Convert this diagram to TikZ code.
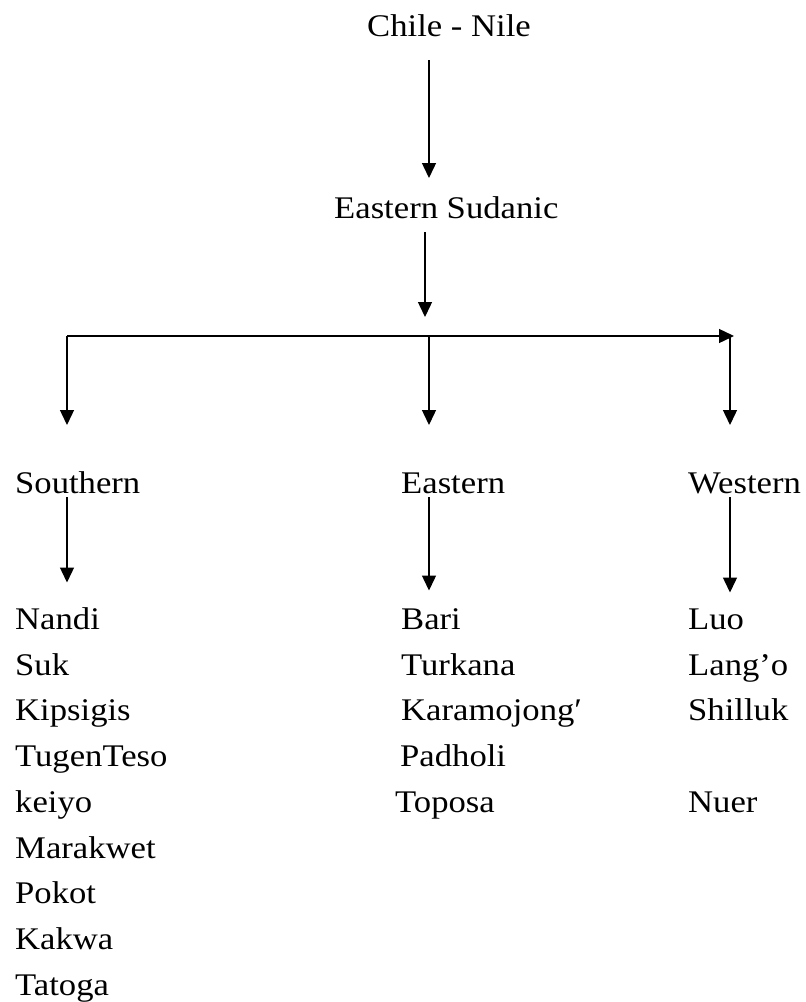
\documentclass[tikz,border=0pt]{standalone}
\usepackage{fontspec}
\setmainfont{Liberation Serif}[FakeStretch=1.1]
\usetikzlibrary{arrows.meta}
\begin{document}
\begin{tikzpicture}[x=1pt, y=-1pt, font=\fontsize{31.5}{36}\selectfont,
	lang/.style={anchor=base west, inner sep=0pt},
	arr/.style={-{Triangle[length=15pt, width=14pt]}, line width=1.4pt}]
	\useasboundingbox (0,0) rectangle (806,1002);
	%top
	\node[lang] (chile) at (367,36) {Chile - Nile};
	\node[lang] (sudanic) at (334,218) {Eastern Sudanic};
	%branches
	\node[lang] (south) at (15,493) {Southern};
	\node[lang] (east) at (401,493) {Eastern};
	\node[lang] (west) at (688,493) {Western};
	%lists
	\foreach \name [count=\i from 0] in {Nandi,Suk,Kipsigis,TugenTeso,keiyo,Marakwet,Pokot,Kakwa,Tatoga}
	\node[lang] (s\i) at (15,629.5+45.7*\i) {\name};
	\foreach \name/\x [count=\i from 0] in {Bari/401,Turkana/401,Karamojong′/401,Padholi/400,Toposa/395}
	\node[lang] (e\i) at (\x,629.5+45.7*\i) {\name};
	\foreach \name/\r in {Luo/0,Lang'o/1,Shilluk/2,Nuer/4}
	\node[lang] (w\r) at (688,629.5+45.7*\r) {\name};
	%bus
	\coordinate (hub) at (425,317);
	\coordinate (busL) at (67,336);
	\coordinate (busM) at (429,336);
	\coordinate (busR) at (734,336);
	\coordinate (busRd) at (730,336);
	%arrows
	\draw[arr, shorten <=24pt, shorten >=40pt] (chile.base -| busM) -- (sudanic.base -| busM);
	\draw[arr, shorten <=14pt] (sudanic.base -| hub) -- (hub);
	\draw[arr] (busL) -- (busR);
	\draw[arr, shorten >=68pt] (busL) -- (busL |- south.base);
	\draw[arr, shorten >=68pt] (busM) -- (busM |- east.base);
	\draw[arr, shorten >=68pt] (busRd) -- (busRd |- west.base);
	\draw[arr, shorten <=4pt, shorten >=47pt] (south.base -| busL) -- (s0.base -| busL);
	\draw[arr, shorten <=4pt, shorten >=39pt] (east.base -| busM) -- (e0.base -| busM);
	\draw[arr, shorten <=4pt, shorten >=37pt] (west.base -| busRd) -- (w0.base -| busRd);
\end{tikzpicture}
\end{document}
